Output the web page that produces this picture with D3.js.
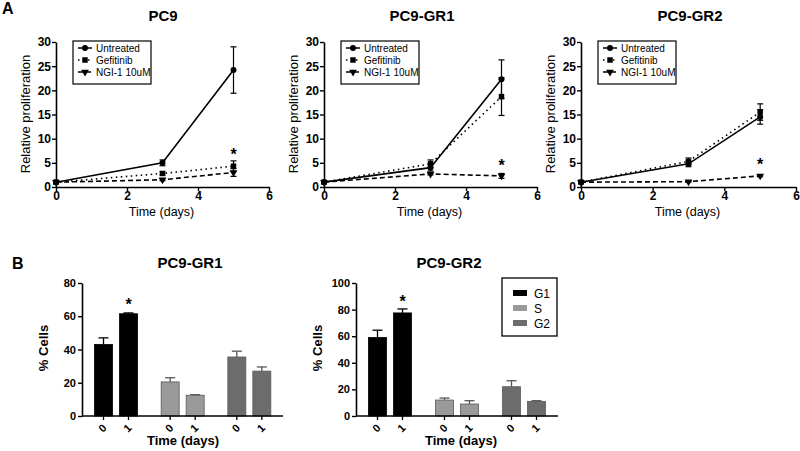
<!DOCTYPE html>
<html><head><meta charset="utf-8">
<script src="https://cdn.jsdelivr.net/npm/d3@7"></script>
<style>body{margin:0;background:#fff}svg{display:block;font-family:"Liberation Sans",Arial,sans-serif}</style>
</head><body><svg id="c" width="800" height="451"></svg>
<script>
// ---------- data ----------
const days = [0, 3, 5];
const seriesNames = ["Untreated", "Gefitinib", "NGI-1 10uM"];
const lineTitles = ["PC9", "PC9-GR1", "PC9-GR2"];
const xTicksA = [0, 2, 4, 6];
const yTicksA = [0, 5, 10, 15, 20, 25, 30];
// values per panel: [untreated, gefitinib, ngi]
const pc9Untreated = [1, 5.0, 24.2], pc9UntreatedErr = [0.2, 0.6, 4.8];
const pc9Gefitinib = [1, 2.8, 4.3], pc9GefitinibErr = [0.2, 0.3, 1.1];
const pc9Ngi = [1, 1.5, 3.0], pc9NgiErr = [0.2, 0.2, 0.8];
const gr1Untreated = [1, 4.0, 22.3], gr1UntreatedErr = [0.2, 0.7, 4.0];
const gr1Gefitinib = [1, 4.8, 18.7], gr1GefitinibErr = [0.2, 0.8, 3.9];
const gr1Ngi = [1, 2.7, 2.3], gr1NgiErr = [0.2, 0.2, 0.5];
const gr2Untreated = [1, 4.8, 14.5], gr2UntreatedErr = [0.2, 0.6, 1.5];
const gr2Gefitinib = [1, 5.3, 15.5], gr2GefitinibErr = [0.2, 0.7, 1.7];
const gr2Ngi = [1, 1.1, 2.3], gr2NgiErr = [0.1, 0.1, 0.2];
const starA = [7.2, 5.0, 5.2];

const phases = ["G1", "S", "G2"];
const timesB = ["0", "1"];
const barTitles = ["PC9-GR1", "PC9-GR2"];
const gr1G1 = [43, 61.5], gr1G1Err = [4, 0.5];
const gr1S = [20.5, 12.5], gr1SErr = [2.5, 0.3];
const gr1G2 = [35.5, 27], gr1G2Err = [3.5, 2.5];
const gr2G1 = [59, 77.5], gr2G1Err = [5.5, 3];
const gr2S = [12, 9], gr2SErr = [1.5, 2.5];
const gr2G2 = [22, 11], gr2G2Err = [4.5, 0.5];
const yTicksB1 = [0, 20, 40, 60, 80];
const yTicksB2 = [0, 20, 40, 60, 80, 100];
const starB = [68.5, 88];
const phaseColors = ["#000000", "#9a9a9a", "#6c6c6c"];

// ---------- drawing ----------
const svg = d3.select("#c");
svg.append("text").attr("x", 2).attr("y", 14).attr("font-size", 16).attr("font-weight", "bold").text("A");
svg.append("text").attr("x", 12).attr("y", 269).attr("font-size", 16).attr("font-weight", "bold").text("B");

const linePanels = [
  {x0: 56, x1: 269, s: [[pc9Untreated, pc9UntreatedErr], [pc9Gefitinib, pc9GefitinibErr], [pc9Ngi, pc9NgiErr]]},
  {x0: 324, x1: 537, s: [[gr1Untreated, gr1UntreatedErr], [gr1Gefitinib, gr1GefitinibErr], [gr1Ngi, gr1NgiErr]]},
  {x0: 581, x1: 796, s: [[gr2Untreated, gr2UntreatedErr], [gr2Gefitinib, gr2GefitinibErr], [gr2Ngi, gr2NgiErr]]}
];
const dashes = [null, "1.5,3.5", "5,3"];
const sym = [d3.symbolCircle, d3.symbolSquare, d3.symbolTriangle];
const symSize = [28, 30, 26];

function drawMarker(g, i, x, y) {
  g.append("path").attr("d", d3.symbol().type(sym[i]).size(symSize[i])())
    .attr("transform", `translate(${x},${y})` + (i === 2 ? " rotate(180)" : ""))
    .attr("fill", "#000");
}

linePanels.forEach((p, pi) => {
  const x = d3.scaleLinear().domain([0, 6]).range([p.x0, p.x1]);
  const y = d3.scaleLinear().domain([0, 30]).range([187, 42]);
  const g = svg.append("g");
  g.append("g").attr("transform", "translate(0,187)")
    .call(d3.axisBottom(x).tickValues(xTicksA).tickSize(4).tickSizeOuter(0).tickFormat(d3.format("d")))
    .call(a => { a.selectAll("text").attr("font-size", 12).attr("font-weight", "bold").attr("fill", "#000").attr("y", 4).attr("dy", "0.71em");
                 a.select(".domain").attr("stroke-width", 1.6); a.selectAll("line").attr("stroke-width", 1.4); });
  g.append("g").attr("transform", `translate(${p.x0},0)`)
    .call(d3.axisLeft(y).tickValues(yTicksA).tickSize(4).tickSizeOuter(0))
    .call(a => { a.selectAll("text").attr("font-size", 12).attr("font-weight", "bold").attr("fill", "#000").attr("x", -5);
                 a.select(".domain").attr("stroke-width", 1.6); a.selectAll("line").attr("stroke-width", 1.4); });
  const cx = (p.x0 + p.x1) / 2;
  g.append("text").attr("x", (pi === 0 ? 163 : pi === 1 ? 422 : 690)).attr("y", 21).attr("text-anchor", "middle")
    .attr("font-size", 15).attr("font-weight", "bold").text(lineTitles[pi]);
  g.append("text").attr("x", cx - 1).attr("y", 216).attr("text-anchor", "middle").attr("font-size", 12.5).text("Time (days)");
  g.append("text").attr("transform", `translate(${p.x0 - 26},114) rotate(-90)`).attr("text-anchor", "middle")
    .attr("font-size", 13).text("Relative proliferation");
  // series
  p.s.forEach(([vals, errs], si) => {
    const pts = days.map((d, k) => [x(d), y(vals[k])]);
    g.append("path").attr("d", d3.line()(pts)).attr("fill", "none").attr("stroke", "#000")
      .attr("stroke-width", 1.6).attr("stroke-dasharray", dashes[si]);
    days.forEach((d, k) => {
      const xx = x(d), yt = y(vals[k] + errs[k]), yb = y(vals[k] - errs[k]);
      g.append("line").attr("x1", xx).attr("x2", xx).attr("y1", yt).attr("y2", yb).attr("stroke", "#000").attr("stroke-width", 1.2);
      [yt, yb].forEach(yy => g.append("line").attr("x1", xx - 3).attr("x2", xx + 3).attr("y1", yy).attr("y2", yy).attr("stroke", "#000").attr("stroke-width", 1.2));
      drawMarker(g, si, xx, y(vals[k]));
    });
  });
  g.append("text").attr("x", x(5)).attr("y", y(starA[pi]) + 8).attr("text-anchor", "middle").attr("font-size", 16).attr("font-weight", "bold").text("*");
  // legend
  const lx = p.x0 + 17, ly = 41;
  g.append("rect").attr("x", lx).attr("y", ly).attr("width", 78).attr("height", 43).attr("fill", "#fff").attr("stroke", "#000").attr("stroke-width", 1.2);
  seriesNames.forEach((n, si) => {
    const yy = ly + 7 + si * 12;
    g.append("line").attr("x1", lx + 5).attr("x2", lx + 19).attr("y1", yy).attr("y2", yy).attr("stroke", "#000")
      .attr("stroke-width", 1.5).attr("stroke-dasharray", dashes[si]);
    drawMarker(g, si, lx + 12, yy);
    g.append("text").attr("x", lx + 23).attr("y", yy + 3.5).attr("font-size", 10).text(n);
  });
});

const barPanels = [
  {x0: 82, x1: 283, ymax: 80, ticks: yTicksB1, data: [[gr1G1, gr1G1Err], [gr1S, gr1SErr], [gr1G2, gr1G2Err]], title: 190, xl: 183},
  {x0: 356, x1: 558, ymax: 100, ticks: yTicksB2, data: [[gr2G1, gr2G1Err], [gr2S, gr2SErr], [gr2G2, gr2G2Err]], title: 449, xl: 461}
];
barPanels.forEach((p, pi) => {
  const g = svg.append("g");
  const x0 = d3.scaleBand().domain(phases).range([p.x0 + 1, p.x1]);
  const x1 = d3.scaleBand().domain(timesB).range([8, 58]).paddingInner(0.28).paddingOuter(0.14);
  const y = d3.scaleLinear().domain([0, p.ymax]).range([416, 283]);
  p.data.forEach(([vals, errs], gi) => {
    timesB.forEach((t, ti) => {
      const bx = x0(phases[gi]) + x1(t), bw = x1.bandwidth();
      const cx = bx + bw / 2, ytop = y(vals[ti]) , ye = y(vals[ti] + errs[ti]);
      const ec = gi === 0 ? "#000" : "#555";
      g.append("line").attr("x1", cx).attr("x2", cx).attr("y1", ytop).attr("y2", ye).attr("stroke", ec).attr("stroke-width", 1.3);
      g.append("line").attr("x1", cx - 5).attr("x2", cx + 5).attr("y1", ye).attr("y2", ye).attr("stroke", ec).attr("stroke-width", 1.3);
      g.append("rect").attr("x", bx).attr("y", ytop).attr("width", bw).attr("height", 416 - ytop)
        .attr("fill", phaseColors[gi]).attr("stroke", gi === 0 ? "#000" : "#5a5a5a").attr("stroke-width", 0.8);
      g.append("line").attr("x1", cx).attr("x2", cx).attr("y1", 416).attr("y2", 420).attr("stroke", "#000").attr("stroke-width", 1.3);
      g.append("text").attr("transform", `translate(${cx - 1},${428}) rotate(-45)`).attr("text-anchor", "middle")
        .attr("font-size", 11).attr("font-weight", "bold").attr("dy", "0.35em").text(t);
    });
  });
  // star above G1 day 1
  const sx = x0("G1") + x1("1") + x1.bandwidth() / 2;
  g.append("text").attr("x", sx).attr("y", y(starB[pi]) + 8).attr("text-anchor", "middle").attr("font-size", 16).attr("font-weight", "bold").text("*");
  // axes
  g.append("line").attr("x1", p.x0).attr("x2", p.x1).attr("y1", 416).attr("y2", 416).attr("stroke", "#000").attr("stroke-width", 1.6);
  g.append("g").attr("transform", `translate(${p.x0},0)`)
    .call(d3.axisLeft(y).tickValues(p.ticks).tickSize(4).tickSizeOuter(0))
    .call(a => { a.selectAll("text").attr("font-size", 11).attr("font-weight", "bold").attr("fill", "#000").attr("x", -6);
                 a.select(".domain").attr("stroke-width", 1.6); a.selectAll("line").attr("stroke-width", 1.4); });
  g.append("text").attr("x", p.title).attr("y", 268).attr("text-anchor", "middle").attr("font-size", 15).attr("font-weight", "bold").text(barTitles[pi]);
  g.append("text").attr("x", p.xl).attr("y", 445).attr("text-anchor", "middle").attr("font-size", 13).attr("font-weight", "bold").text("Time (days)");
  g.append("text").attr("transform", `translate(${p.x0 - 34},348) rotate(-90)`).attr("text-anchor", "middle")
    .attr("font-size", 13).attr("font-weight", "bold").text("% Cells");
});
// legend B
const lg = svg.append("g");
lg.append("rect").attr("x", 502).attr("y", 278).attr("width", 55).attr("height", 58).attr("fill", "#fff").attr("stroke", "#000").attr("stroke-width", 1.3);
phases.forEach((ph, i) => {
  const yy = 293 + i * 15;
  lg.append("rect").attr("x", 513).attr("y", yy - 3).attr("width", 14).attr("height", 6).attr("fill", phaseColors[i]);
  lg.append("text").attr("x", 534).attr("y", yy + 4.5).attr("font-size", 12).text(ph);
});
</script></body></html>
